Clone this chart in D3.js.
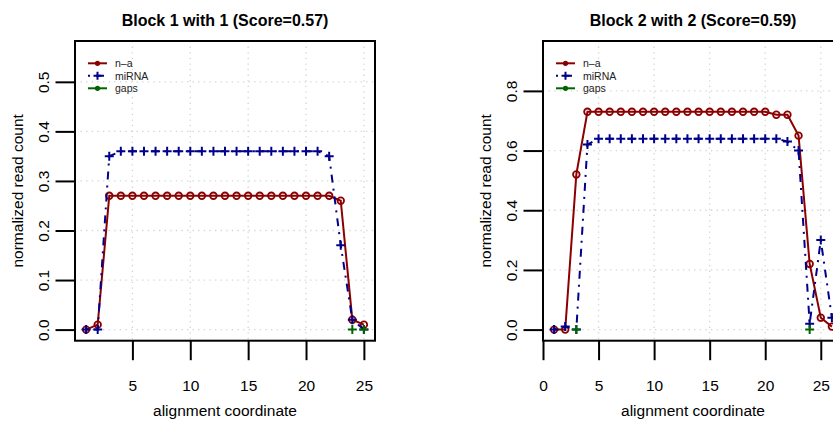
<!DOCTYPE html>
<html>
<head>
<meta charset="utf-8">
<script src="https://cdn.jsdelivr.net/npm/d3@7"></script>
<style>
  body { margin: 0; background: #fff; }
  text { font-family: "Liberation Sans", Arial, Helvetica, sans-serif; }
</style>
</head>
<body>
<svg width="833" height="421"></svg>
<script>
// ---- data ----
const titles = ['Block 1 with 1 (Score=0.57)', 'Block 2 with 2 (Score=0.59)'];
const seriesNames = ['n\u2013a', 'miRNA', 'gaps'];

const pos1 = [1, 2, 3, 4, 5, 6, 7, 8, 9, 10, 11, 12, 13, 14, 15, 16, 17, 18, 19, 20, 21, 22, 23, 24, 25];
const na1 = [0, 0.01, 0.27, 0.27, 0.27, 0.27, 0.27, 0.27, 0.27, 0.27, 0.27, 0.27, 0.27, 0.27, 0.27, 0.27, 0.27, 0.27, 0.27, 0.27, 0.27, 0.27, 0.26, 0.02, 0.01];
const mirna1 = [0, 0, 0.35, 0.36, 0.36, 0.36, 0.36, 0.36, 0.36, 0.36, 0.36, 0.36, 0.36, 0.36, 0.36, 0.36, 0.36, 0.36, 0.36, 0.36, 0.36, 0.35, 0.17, 0.02, 0];
const gapPos1 = [24, 25];
const gapVal1 = [0, 0];

const pos2 = [1, 2, 3, 4, 5, 6, 7, 8, 9, 10, 11, 12, 13, 14, 15, 16, 17, 18, 19, 20, 21, 22, 23, 24, 25, 26];
const na2 = [0, 0, 0.52, 0.73, 0.73, 0.73, 0.73, 0.73, 0.73, 0.73, 0.73, 0.73, 0.73, 0.73, 0.73, 0.73, 0.73, 0.73, 0.73, 0.73, 0.72, 0.72, 0.65, 0.22, 0.04, 0.01];
const mirna2 = [0, 0.01, 0, 0.62, 0.64, 0.64, 0.64, 0.64, 0.64, 0.64, 0.64, 0.64, 0.64, 0.64, 0.64, 0.64, 0.64, 0.64, 0.64, 0.64, 0.64, 0.63, 0.60, 0.02, 0.30, 0.04];
const gapPos2 = [3, 24];
const gapVal2 = [0, 0];

const xTicks1 = [5, 10, 15, 20, 25];
const xTicks2 = [0, 5, 10, 15, 20, 25];
const yTicks1 = [0, 0.1, 0.2, 0.3, 0.4, 0.5];
const yTicks2 = [0, 0.2, 0.4, 0.6, 0.8];
const yMax1 = 0.56;
const yMax2 = 0.93;

const RED = '#8b0000', BLUE = '#00008b', GREEN = '#006400';

const svg = d3.select('svg');
const plotTop = 41, plotBottom = 340.7, boxW = 300;

// R style 4% axis extension
const extend = (lo, hi) => { const e = (hi - lo) * 0.04; return [lo - e, hi + e]; };

const drawPanel = (left, cfg) => {
    const g = svg.append('g').attr('class', 'panel');
    const right = left + boxW;
    const x = d3.scaleLinear().domain(extend(1, cfg.pos[cfg.pos.length - 1])).range([left, right]);
    const y = d3.scaleLinear().domain(extend(0, cfg.yMax)).range([plotBottom, plotTop]);

    // dotted grid
    const grid = g.append('g').attr('stroke', '#d3d3d3').attr('stroke-width', 1.3)
        .attr('stroke-dasharray', '1.3,4.3');
    grid.selectAll('.gx').data(cfg.xTicks).enter().append('line')
        .attr('x1', d => x(d)).attr('x2', d => x(d)).attr('y1', plotTop).attr('y2', plotBottom);
    grid.selectAll('.gy').data(cfg.yTicks).enter().append('line')
        .attr('x1', left).attr('x2', right).attr('y1', d => y(d)).attr('y2', d => y(d));

    const line = d3.line().x(d => x(d[0])).y(d => y(d[1]));

    // n-a : solid line with open circles
    const naPts = cfg.pos.map((p, i) => [p, cfg.na[i]]);
    g.append('path').datum(naPts).attr('d', line)
        .attr('fill', 'none').attr('stroke', RED).attr('stroke-width', 2);
    g.append('g').selectAll('circle').data(naPts).enter().append('circle')
        .attr('cx', d => x(d[0])).attr('cy', d => y(d[1])).attr('r', 3.3)
        .attr('fill', 'none').attr('stroke', RED).attr('stroke-width', 1.8);

    // miRNA : dot-dash with plus signs
    const miPts = cfg.pos.map((p, i) => [p, cfg.mirna[i]]);
    g.append('path').datum(miPts).attr('d', line)
        .attr('fill', 'none').attr('stroke', BLUE).attr('stroke-width', 2)
        .attr('stroke-dasharray', '2,6,8,6');
    const plus = (sel, pts, col) => {
        sel.append('g').selectAll('path').data(pts).enter().append('path')
            .attr('d', d => `M${x(d[0]) - 4.5},${y(d[1])}h9M${x(d[0])},${y(d[1]) - 4.5}v9`)
            .attr('stroke', col).attr('stroke-width', 2).attr('fill', 'none');
    };
    plus(g, miPts, BLUE);

    // gaps : points only
    plus(g, cfg.gapPos.map((p, i) => [p, cfg.gapVal[i]]), GREEN);

    // box
    g.append('rect').attr('x', left).attr('y', plotTop).attr('width', boxW).attr('height', plotBottom - plotTop)
        .attr('fill', 'none').attr('stroke', '#000').attr('stroke-width', 2);

    // axes
    const xa = g.append('g').attr('transform', `translate(0,${plotBottom})`)
        .call(d3.axisBottom(x).tickValues(cfg.xTicks).tickSize(19.5).tickSizeOuter(0).tickPadding(20));
    const ya = g.append('g').attr('transform', `translate(${left},0)`)
        .call(d3.axisLeft(y).tickValues(cfg.yTicks).tickFormat(d3.format('.1f')).tickSize(19.5).tickSizeOuter(0));
    [xa, ya].forEach(a => {
        a.select('.domain').remove();
        a.selectAll('.tick line').attr('stroke-width', 2);
        a.selectAll('text').attr('font-size', 15.5).attr('fill', '#000')
            .style('font-family', '"Liberation Sans", Arial, sans-serif');
    });
    ya.selectAll('.tick text')
        .attr('x', null).attr('dy', null).attr('text-anchor', 'middle')
        .attr('transform', 'translate(-26.5,0) rotate(-90)');

    // titles and labels
    const cx = (left + right) / 2;
    g.append('text').attr('x', cx).attr('y', 26).attr('text-anchor', 'middle')
        .attr('font-size', 16).attr('font-weight', 'bold').text(cfg.title);
    g.append('text').attr('x', cx).attr('y', 416).attr('text-anchor', 'middle')
        .attr('font-size', 15.5).text('alignment coordinate');
    g.append('text').attr('text-anchor', 'middle').attr('font-size', 15.5)
        .attr('transform', `translate(${left - 52},${(plotTop + plotBottom) / 2}) rotate(-90)`)
        .text('normalized read count');

    // legend
    const legCols = [RED, BLUE, GREEN];
    const lg = g.append('g').attr('transform', `translate(${left + 13},63.3)`);
    seriesNames.forEach((name, i) => {
        const row = lg.append('g').attr('transform', `translate(0,${i * 12.5})`);
        row.append('line').attr('x1', 0).attr('x2', 19).attr('stroke', legCols[i]).attr('stroke-width', 2)
            .attr('stroke-dasharray', i === 1 ? '2,6,8,6' : null);
        if (i === 1) {
            row.append('path').attr('d', 'M5.5,0h8M9.5,-4v8').attr('stroke', BLUE).attr('stroke-width', 2);
        } else {
            row.append('circle').attr('cx', 9.5).attr('r', 2.6).attr('fill', legCols[i]);
        }
        row.append('text').attr('x', 27).attr('y', 3.7).attr('font-size', 10.5).attr('fill', '#222').text(name);
    });
};

drawPanel(75, { title: titles[0], pos: pos1, na: na1, mirna: mirna1, gapPos: gapPos1, gapVal: gapVal1,
    xTicks: xTicks1, yTicks: yTicks1, yMax: yMax1 });
drawPanel(543, { title: titles[1], pos: pos2, na: na2, mirna: mirna2, gapPos: gapPos2, gapVal: gapVal2,
    xTicks: xTicks2, yTicks: yTicks2, yMax: yMax2 });
</script>
</body>
</html>
